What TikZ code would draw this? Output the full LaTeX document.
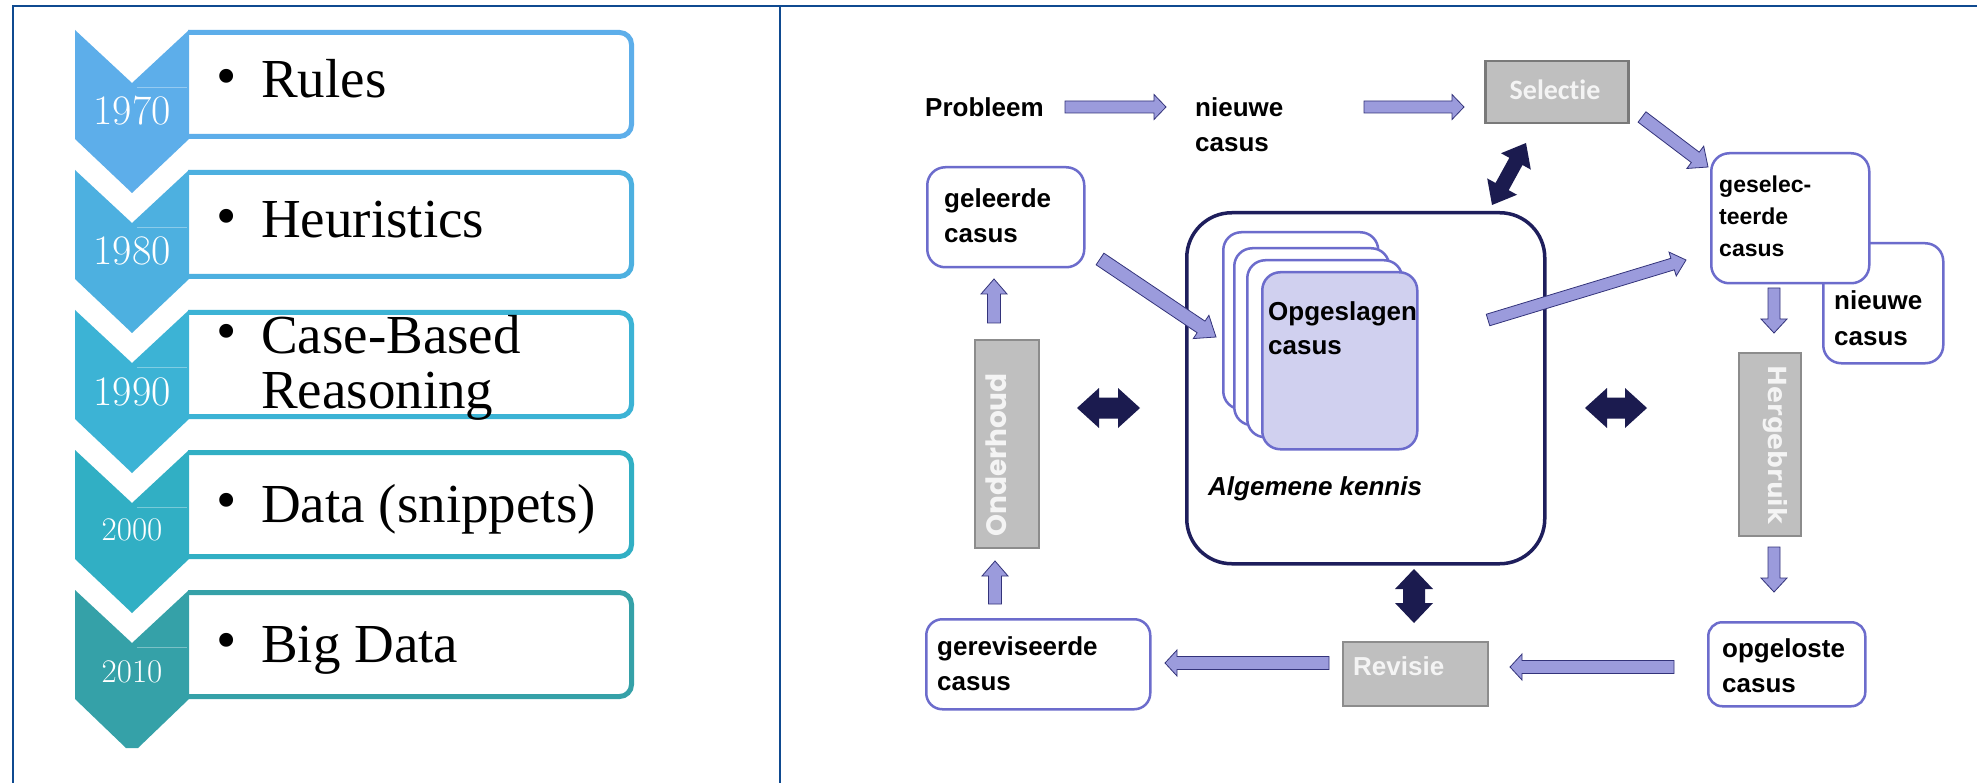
\documentclass[tikz,border=0pt]{standalone}
\usepackage{fontspec}
\usetikzlibrary{calc}
\newfontfamily\serifA{Liberation Serif}
\newfontfamily\arial{Liberation Sans}
\newfontfamily\calib{Carlito}[Ligatures={NoCommon}]
\newfontfamily\geo{Poppins}
\newfontfamily\dejav{DejaVu Sans}
\definecolor{frameblue}{HTML}{0F4A90}
\definecolor{cA}{HTML}{5DAEEA}
\definecolor{cB}{HTML}{4DB0E0}
\definecolor{cC}{HTML}{3CB3D5}
\definecolor{cD}{HTML}{31AFC4}
\definecolor{cE}{HTML}{35A1A8}
\definecolor{afill}{HTML}{9B9BDC}
\definecolor{aborder}{HTML}{33337A}
\definecolor{navy}{HTML}{1B1B4F}
\definecolor{bborder}{HTML}{6C6CCC}
\definecolor{cardfill}{HTML}{D0D0EF}
\definecolor{gfill}{HTML}{BFBFBF}
\definecolor{gborder}{HTML}{8C8C8C}
\definecolor{wtext}{HTML}{F4F4F4}
\definecolor{bigborder}{HTML}{1E1E5C}
% block arrow: from, to, shaft half width, head half width, head length
\newcommand\blockarrow[5]{%
  \draw[blockarr] ($(#1)!#3!90:(#2)$) -- ($(#2)!#5!(#1)!#3!-90:(#1)$) -- ($(#2)!#5!(#1)!#4!-90:(#1)$) -- (#2) -- ($(#2)!#5!(#1)!#4!90:(#1)$) -- ($(#2)!#5!(#1)!#3!90:(#1)$) -- ($(#1)!#3!-90:(#2)$) -- cycle;}
\newcommand\dblarrow[5]{%
  \fill[navy] (#1) -- ($(#1)!#5!(#2)!#4!90:(#2)$) -- ($(#1)!#5!(#2)!#3!90:(#2)$) -- ($(#2)!#5!(#1)!#3!-90:(#1)$) -- ($(#2)!#5!(#1)!#4!-90:(#1)$) -- (#2) -- ($(#2)!#5!(#1)!#4!90:(#1)$) -- ($(#2)!#5!(#1)!#3!90:(#1)$) -- ($(#1)!#5!(#2)!#3!-90:(#2)$) -- ($(#1)!#5!(#2)!#4!-90:(#2)$) -- cycle;}
% chevron + item frame
\newcommand\chevitem[2]{%
  \draw[#2, line width=5pt, rounded corners=12pt] (188,#1+2.5) -- (631.5,#1+2.5) -- (631.5,#1+106.5) -- (188,#1+106.5);
  \fill[#2] (75,#1) -- (132,#1+53) -- (189,#1) -- (189,#1+109) -- (132,#1+163) -- (75,#1+109) -- cycle;
  \draw[white, opacity=0.35, line width=0.8pt] (137,#1+57) -- (187,#1+57);}
\begin{document}
\begin{tikzpicture}[x=1pt,y=-1pt,
  frame/.style={draw=frameblue, line width=2.6pt},
  item/.style={font=\serifA\fontsize{55}{55}\selectfont, inner sep=0, anchor=base west},
  bul/.style={font=\serifA\fontsize{58}{58}\selectfont, inner sep=0},
  yearbig/.style={font=\fontsize{42}{42}\selectfont, text=white, inner sep=0, anchor=base},
  yearsmall/.style={font=\fontsize{33}{33}\selectfont, text=white, inner sep=0, anchor=base},
  blockarr/.style={fill=afill, draw=aborder, line width=0.8pt, line join=miter},
  txt/.style={font=\arial\bfseries\fontsize{26}{30}\selectfont, inner sep=0, anchor=base west},
  stxt/.style={font=\arial\bfseries\fontsize{23}{26}\selectfont, inner sep=0, anchor=base west},
  cbox/.style={draw=bborder, fill=white, line width=2.5pt, rounded corners=18pt, anchor=north west, inner sep=0},
  gbox/.style={draw=gborder, fill=gfill, line width=1.5pt, anchor=north west, inner sep=0},
  card/.style={draw=bborder, fill=white, line width=2.5pt, rounded corners=18pt, anchor=north west, inner sep=0, minimum width=155pt, minimum height=177pt}
]
\useasboundingbox (0,0) rectangle (1977,783);
\fill[white] (0,0) rectangle (1977,783);
% frame
\draw[frame] (13,783) -- (13,6) -- (1977,6);
\draw[frame] (780,6) -- (780,783);

% ---------- left panel ----------
\chevitem{30}{cA}
\chevitem{170}{cB}
\chevitem{310}{cC}
\chevitem{450}{cD}
% last chevron (cut at the bottom)
\draw[cE, line width=5pt, rounded corners=12pt] (188,592.5) -- (631.5,592.5) -- (631.5,696.5) -- (188,696.5);
\fill[cE] (75,590) -- (132,643) -- (189,590) -- (189,699) -- (138,748) -- (126,748) -- (75,699) -- cycle;
\draw[white, opacity=0.35, line width=0.8pt] (137,647) -- (187,647);

\node[yearbig] (y1970) at (132,125) {1970};
\node[yearbig] (y1980) at (132,265) {1980};
\node[yearbig] (y1990) at (132,405) {1990};
\node[yearsmall] (y2000) at (132,540) {2000};
\node[yearsmall] (y2010) at (132,682) {2010};

\node[bul] (b1) at (227,82) {•};
\node[item] (rules) at (261,98) {Rules};
\node[bul] (b2) at (227,222) {•};
\node[item] (heur) at (261,238) {Heuristics};
\node[bul] (b3) at (227,337) {•};
\node[item] (cbr1) at (261,353) {Case-Based};
\node[item] (cbr2) at (261,408) {Reasoning};
\node[bul] (b4) at (227,506) {•};
\node[item] (data) at (261,522) {Data (snippets)};
\node[bul] (b5) at (227,646) {•};
\node[item] (big) at (261,662) {Big Data};

% ---------- right panel ----------
% knowledge box
\node[draw=bigborder, fill=white, line width=3.5pt, rounded corners=45pt, anchor=north west, inner sep=0,
      minimum width=358pt, minimum height=351pt] (kennis) at (1185,211) {};
\node[card] (card1) at (1222,231) {};
\node[card] (card2) at (1233,247) {};
\node[card] (card3) at (1246,259) {};
\node[card, fill=cardfill] (card4) at (1261,271) {};
\node[txt] (opg1) at (1268,320) {Opgeslagen};
\node[txt] (opg2) at (1268,355) {casus};
\node[txt, font=\arial\bfseries\itshape\fontsize{26}{30}\selectfont] (alg) at (1208,495) {Algemene kennis};

% top row
\node[txt] (probleem) at (925,117) {Probleem};
\node[txt] (nc1) at (1195,117) {nieuwe};
\node[txt] (nc2) at (1195,152) {casus};
\node[gbox, draw=gray!95!black, line width=2.5pt, minimum width=143pt, minimum height=62pt] (selectie) at (1484,60) {};
\node[font=\calib\bfseries\fontsize{28}{30}\selectfont, text=wtext, inner sep=0, anchor=base] (seltxt) at (1555,100) {Selectie};

% right column
\node[cbox, minimum width=120pt, minimum height=120pt] (nieuwebox) at (1822,242) {};
\node[cbox, minimum width=158pt, minimum height=130pt] (geselbox) at (1710,152) {};
\node[stxt] (gs1) at (1719,193) {geselec-};
\node[stxt] (gs2) at (1719,225) {teerde};
\node[stxt] (gs3) at (1719,257) {casus};
\node[txt] (nb1) at (1834,310) {nieuwe};
\node[txt] (nb2) at (1834,345) {casus};
\node[gbox, minimum width=62pt, minimum height=183pt] (herg) at (1738,352) {};
\node[font=\dejav\bfseries\fontsize{25}{28}\selectfont, text=wtext, inner sep=0, anchor=base, rotate=-90] (hergtxt) at (1768,445) {Hergebruik};
\node[cbox, rounded corners=14pt, minimum width=157pt, minimum height=84pt] (opgbox) at (1707,621) {};
\node[txt] (ol1) at (1722,657) {opgeloste};
\node[txt] (ol2) at (1722,692) {casus};

% bottom row
\node[gbox, minimum width=145pt, minimum height=64pt] (revisie) at (1342,641) {};
\node[font=\arial\bfseries\fontsize{26}{30}\selectfont, text=wtext, inner sep=0, anchor=base west] (revtxt) at (1353,675) {Revisie};
\node[cbox, rounded corners=16pt, minimum width=224pt, minimum height=90pt] (gerevbox) at (925,618) {};
\node[txt] (gr1) at (937,655) {gereviseerde};
\node[txt] (gr2) at (937,690) {casus};

% left column
\node[gbox, minimum width=64pt, minimum height=208pt] (onderhoud) at (974,339) {};
\node[font=\geo\bfseries\fontsize{28}{30}\selectfont, text=wtext, inner sep=0, anchor=base, rotate=90] (ondtxt) at (1006,455) {Onderhoud};
\node[cbox, minimum width=157pt, minimum height=100pt] (gelbox) at (926,166) {};
\node[txt] (gl1) at (944,208) {geleerde};
\node[txt] (gl2) at (944,243) {casus};

% arrow end points
\coordinate (p1s) at (1065,107); \coordinate (p1e) at (1166,107);
\coordinate (p2s) at (1364,107); \coordinate (p2e) at (1464,107);
\coordinate (p3s) at (1642,117); \coordinate (p3e) at (1708,167);
\coordinate (p4s) at (1488,320); \coordinate (p4e) at (1686,260);
\coordinate (p5s) at (1774,288); \coordinate (p5e) at (1774,333);
\coordinate (p6s) at (1774,547); \coordinate (p6e) at (1774,592);
\coordinate (p7s) at (1674,667); \coordinate (p7e) at (1510,667);
\coordinate (p8s) at (1329,663); \coordinate (p8e) at (1165,663);
\coordinate (p9s) at (995,604);  \coordinate (p9e) at (995,561);
\coordinate (p10s) at (994,323); \coordinate (p10e) at (994,279);
\coordinate (p11s) at (1100,259); \coordinate (p11e) at (1216,337);
\coordinate (d1a) at (1492,205); \coordinate (d1b) at (1526,143);
\coordinate (d2a) at (1077,408); \coordinate (d2b) at (1140,408);
\coordinate (d3a) at (1585,408); \coordinate (d3b) at (1647,408);
\coordinate (d4a) at (1414,623); \coordinate (d4b) at (1414,569);

\blockarrow{p1s}{p1e}{6pt}{12.5pt}{12pt}
\blockarrow{p2s}{p2e}{6pt}{12.5pt}{12pt}
\blockarrow{p3s}{p3e}{6.5pt}{14pt}{16pt}
\blockarrow{p4s}{p4e}{6pt}{12.5pt}{14pt}
\blockarrow{p5s}{p5e}{6pt}{13pt}{14pt}
\blockarrow{p6s}{p6e}{6pt}{13pt}{14pt}
\blockarrow{p7s}{p7e}{6.5pt}{13pt}{12pt}
\blockarrow{p8s}{p8e}{6.5pt}{13pt}{12pt}
\blockarrow{p9s}{p9e}{6.5pt}{13pt}{15pt}
\blockarrow{p10s}{p10e}{6.5pt}{13pt}{15pt}
\blockarrow{p11s}{p11e}{7pt}{14pt}{18pt}

\dblarrow{d1a}{d1b}{7.5pt}{17pt}{21pt}
\dblarrow{d2a}{d2b}{10.5pt}{20pt}{22pt}
\dblarrow{d3a}{d3b}{10.5pt}{20pt}{22pt}
\dblarrow{d4a}{d4b}{11pt}{19pt}{20pt}
\end{tikzpicture}
\end{document}
